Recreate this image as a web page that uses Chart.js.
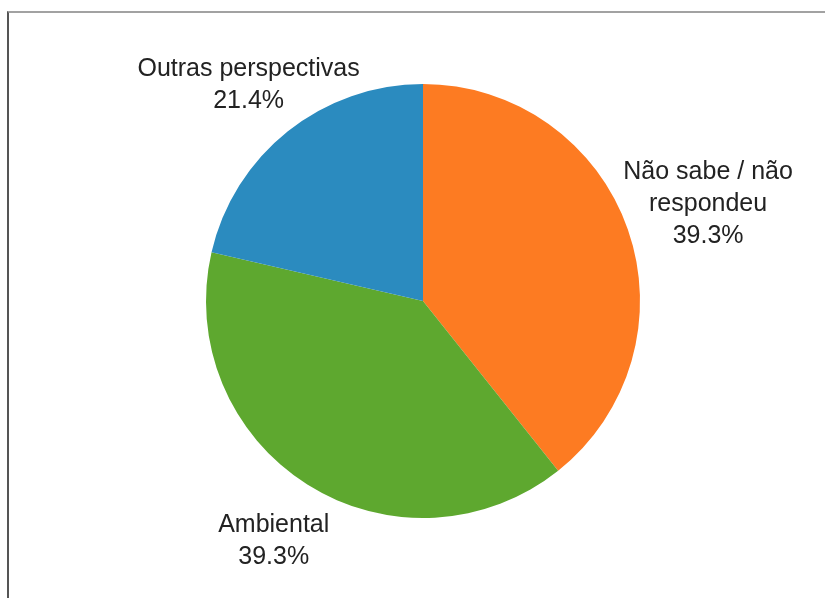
<!DOCTYPE html>
<html>
<head>
<meta charset="utf-8">
<script src="https://cdn.jsdelivr.net/npm/chart.js@4"></script>
<style>
  html, body { margin:0; padding:0; background:#fff; }
  #wrap { position:relative; width:825px; height:598px; overflow:hidden; }
  #frame { position:absolute; left:7px; top:11px; right:-2px; bottom:-2px;
           border-top:2px solid #a2a2a2; border-left:2px solid #555; }
  canvas { position:absolute; left:0; top:0; }
</style>
</head>
<body>
<div id="wrap">
  <div id="frame"></div>
  <canvas id="pie" width="825" height="598"></canvas>
</div>
<script>
  // slices, clockwise from 12 o'clock
  const labels = [['Não sabe / não', 'respondeu'], ['Ambiental'], ['Outras perspectivas']];
  const shares = [39.3, 39.3, 21.4];
  const colors = ['#fd7b22', '#5ea82f', '#2b8bbf'];

  // text block pushed out from the rim along each slice's middle angle
  const sliceLabels = {
    id: 'sliceLabels',
    afterDraw(chart){
      const ctx = chart.ctx;
      const arcs = chart.getDatasetMeta(0).data;
      const lh = 32;
      ctx.save();
      ctx.font = '25px "Liberation Sans", Arial, sans-serif';
      ctx.fillStyle = '#222';
      ctx.textAlign = 'center';
      ctx.textBaseline = 'middle';
      arcs.forEach((arc, i) => {
        const p = arc.getProps(['x','y','startAngle','endAngle','outerRadius']);
        const mid = (p.startAngle + p.endAngle) / 2;
        const lines = labels[i].concat([shares[i].toFixed(1) + '%']);
        const d = p.outerRadius + 19 + 22 * lines.length;
        const cx = p.x + Math.cos(mid) * d;
        const cy = p.y + Math.sin(mid) * d + 3;
        const top = cy - (lines.length - 1) * lh / 2;
        lines.forEach((t, k) => ctx.fillText(t, cx, top + k * lh));
      });
      ctx.restore();
    }
  };

  new Chart(document.getElementById('pie'), {
    type: 'pie',
    data: {
      labels: labels.map(l => l.join(' ')),
      datasets: [{ data: shares, backgroundColor: colors, borderWidth: 0 }]
    },
    options: {
      responsive: false,
      animation: false,
      layout: { padding: { top: 84, bottom: 80, left: 206, right: 185 } },
      plugins: { legend: { display: false }, tooltip: { enabled: false } }
    },
    plugins: [sliceLabels]
  });
</script>
</body>
</html>
